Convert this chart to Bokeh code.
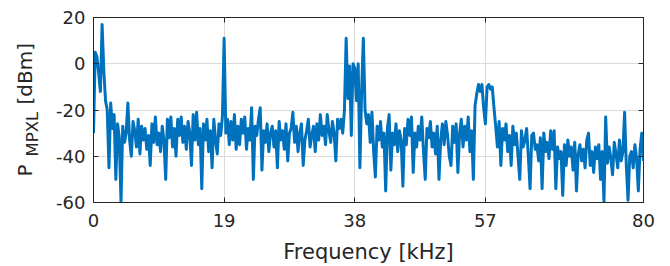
from math import pi
from bokeh.plotting import figure
from bokeh.layouts import row
from bokeh.models import FixedTicker, LinearAxis, Range1d, Label
from bokeh.embed import file_html
from bokeh.resources import INLINE

# spectrum bins (kHz spacing between samples)
bin_khz = 0.25

# power in dBm, 4 samples per kHz
power_00_10 = [-30, 5, 3, -4, -12, 17, -3, -16, -20, -45, -17, -28, -22, -50, -26, -32,
               -60, -27, -34, -30, -17, -33, -40, -25, -29, -36, -24, -39, -27, -33, -28, -37,
               -31, -44, -26, -34, -23, -35, -30, -38]
power_10_20 = [-27, -33, -50, -24, -32, -23, -36, -28, -40, -24, -31, -23, -34, -27, -37, -25,
               -30, -44, -22, -33, -21, -35, -28, -54, -26, -33, -24, -38, -29, -45, -24, -33,
               -39, -26, -31, -23, 11, -30, -24, -35]
power_20_30 = [-25, -33, -22, -37, -27, -35, -24, -30, -23, -37, -28, -33, -19, -50, -27, -31,
               -24, -19, -46, -29, -34, -26, -38, -30, -27, -36, -29, -45, -25, -33, -29, -37,
               -26, -42, -30, -28, -21, -34, -27, -38]
power_30_40 = [-30, -26, -44, -33, -29, -24, -36, -31, -27, -38, -26, -33, -22, -31, -27, -35,
               -22, -29, -34, -25, -30, -42, -24, -28, -24, -30, -20, 11, -15, -1, -31, 0,
               -2, -16, 0, -45, -12, 11, -20, -26]
power_40_50 = [-22, -34, -21, -38, -49, -27, -33, -25, -36, -30, -55, -28, -22, -46, -30, -35,
               -26, -38, -29, -33, -53, -28, -35, -24, -31, -23, -47, -30, -36, -27, -33, -23,
               -38, -50, -28, -32, -25, -36, -30, -39]
power_50_60 = [-27, -50, -33, -26, -35, -25, -31, -40, -44, -27, -34, -26, -47, -30, -24, -36,
               -27, -33, -23, -38, -29, -50, -18, -13, -9, -12, -9, -19, -26, -10, -9, -11,
               -10, -19, -27, -36, -25, -44, -28, -33]
power_60_70 = [-26, -38, -31, -44, -27, -35, -30, -40, -50, -29, -36, -33, -28, -40, -54, -31,
               -30, -37, -35, -42, -32, -54, -30, -38, -34, -41, -29, -37, -29, -54, -36, -41,
               -38, -57, -35, -44, -33, -40, -36, -46]
power_70_80 = [-34, -55, -39, -35, -42, -37, -45, -33, -30, -44, -38, -47, -36, -41, -35, -50,
               -38, -60, -23, -43, -36, -41, -48, -34, -39, -45, -33, -42, -38, -21, -44, -59,
               -40, -38, -45, -35, -41, -55, -37, -30, -42]

power_dbm = (power_00_10 + power_10_20 + power_20_30 + power_30_40 +
             power_40_50 + power_50_60 + power_60_70 + power_70_80)
freq_khz = [i * bin_khz for i in range(len(power_dbm))]

x_ticks = [0, 19, 38, 57, 80]
y_ticks = [-60, -40, -20, 0, 20]
y_tick_labels = {t: str(t) for t in y_ticks}

FONT = "DejaVu Sans"
DARK = "#262626"

# ---- narrow panel holding the y-axis title (P with subscript MPXL, then [dBm])
# (its frame is aligned with the main plot's frame by the row layout)
LW, H = 45, 266
lab = figure(width=LW, height=H, x_range=Range1d(0, LW), y_range=Range1d(0, H),
             x_axis_type=None, y_axis_type=None, output_backend="svg", toolbar_location=None,
             min_border=0, outline_line_color=None)
lab.grid.visible = False
for txt, sx, sy, size in (("P", 24, 26, "20px"),
                          ("MPXL", 31.5, 46, "16.5px"),
                          ("[dBm]", 24, 98, "20px")):
    lab.add_layout(Label(x=sx, y=sy, x_units="screen", y_units="screen", text=txt,
                         angle=pi / 2, text_font=FONT, text_font_size=size,
                         text_color=DARK, text_align="left", text_baseline="alphabetic"))

# ---- main spectrum plot
p = figure(width=615, height=H, x_range=Range1d(0, 80), y_range=Range1d(-60, 20),
           output_backend="svg", toolbar_location=None,
           min_border_left=48, min_border_right=17, min_border_top=17, min_border_bottom=64)
p.background_fill_color = "white"
p.border_fill_color = "white"
p.outline_line_color = DARK
p.outline_line_width = 1

p.line(freq_khz, power_dbm, line_color="#0072BD", line_width=3, line_join="round")

for ax, ticks in ((p.xaxis[0], x_ticks), (p.yaxis[0], y_ticks)):
    ax.ticker = FixedTicker(ticks=ticks)
    ax.major_tick_in = 5
    ax.major_tick_out = 0
    ax.minor_tick_line_color = None
    ax.axis_line_color = DARK
    ax.major_tick_line_color = DARK
    ax.major_label_text_font = FONT
    ax.major_label_text_font_size = "18px"
    ax.major_label_text_color = DARK

p.yaxis.major_label_overrides = y_tick_labels
p.xaxis.major_label_standoff = 11
p.yaxis.major_label_standoff = 8
p.xaxis.axis_label = "Frequency [kHz]"
p.xaxis.axis_label_text_font = FONT
p.xaxis.axis_label_text_font_size = "21px"
p.xaxis.axis_label_text_font_style = "normal"
p.xaxis.axis_label_text_color = DARK
p.xaxis.axis_label_standoff = 10

for loc, ticks in (("right", y_ticks), ("above", x_ticks)):
    ax = LinearAxis(ticker=FixedTicker(ticks=ticks), major_tick_in=5, major_tick_out=0,
                    minor_tick_line_color=None, axis_line_color=None,
                    major_tick_line_color=DARK, major_label_standoff=0,
                    major_label_overrides={t: "" for t in ticks})
    p.add_layout(ax, loc)

p.xgrid.ticker = FixedTicker(ticks=x_ticks)
p.ygrid.ticker = FixedTicker(ticks=y_ticks)
p.grid.grid_line_color = "#dadada"
p.grid.grid_line_width = 1

layout = row(lab, p, spacing=0)
open("out.html", "w").write(file_html(layout, INLINE))
